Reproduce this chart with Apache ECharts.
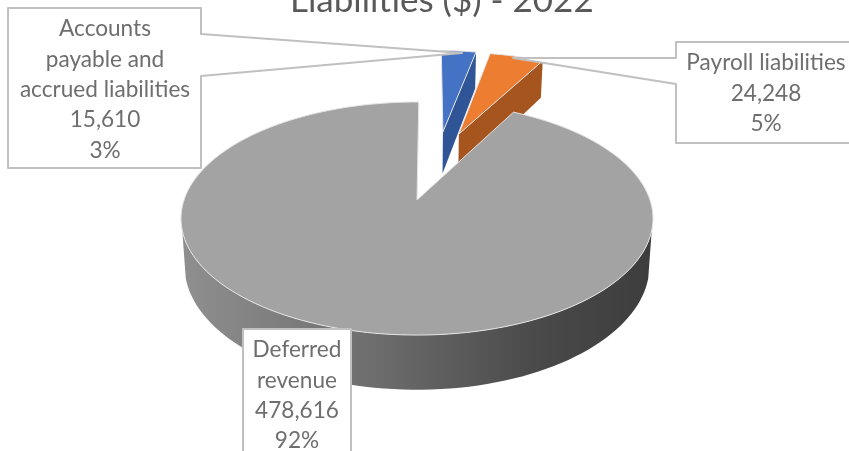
<!DOCTYPE html>
<html><head><meta charset="utf-8">
<style>html,body{margin:0;padding:0;background:#fff}#c{width:849px;height:451px;filter:blur(0.5px)}</style>
<script src="https://cdn.jsdelivr.net/npm/echarts@6/dist/echarts.min.js"></script>
</head><body><div id="c"></div>
<script>
const title = "Liabilities ($) - 2022";
const categories = ["Accounts\npayable and\naccrued liabilities", "Payroll liabilities", "Deferred\nrevenue"];
const values = [15610, 24248, 478616];
const topColors = ["#4472c4", "#ed7d31", "#a3a3a3"];
const sideColors = ["#2f5597", "#a6551f", "#666666"];

// 3D view of the pie: perspective projection of the unit disc
const CX = 417, CY = 200, B = 233, A = 113.6, K = 0.159, DEPTH = 46, ROT = 0.5;
const explode = [[0.123, -0.662], [0.198, -0.64], [0, 0]];
const total = values.reduce((a, b) => a + b, 0);
const startAngles = []; let acc = ROT;
values.forEach(v => { startAngles.push(acc); acc += v / total * 360; });

function proj(u, v, low) {
  const s = 1 / (1 - K * v);
  const xs = low ? 0.985 : 1;
  return [CX + B * u * s * xs, CY + A * v * s + (low ? DEPTH * s : 0)];
}
function rim(off, deg, low) {
  const t = deg * Math.PI / 180;
  return proj(off[0] + Math.sin(t), off[1] - Math.cos(t), low);
}
function arc(off, a, b, low) {
  const pts = [], n = Math.max(4, Math.ceil(Math.abs(b - a) / 2));
  for (let i = 0; i <= n; i++) pts.push(rim(off, a + (b - a) * i / n, low));
  return pts;
}
function poly(points, fill, stroke, w) {
  return { type: 'polygon', shape: { points }, style: { fill, stroke: stroke || null, lineWidth: w || 0, lineJoin: 'round' } };
}
function renderSlice(params, api) {
  const i = params.dataIndex, val = api.value(0);
  const a = startAngles[i], b = a + val / total * 360, off = explode[i];
  const apex = proj(off[0], off[1], false), apexLow = proj(off[0], off[1], true);
  const top = [apex].concat(arc(off, a, b, false));
  const kids = [];
  if (i < 2) {
    kids.push(poly([apex, rim(off, b, false), rim(off, b, true), apexLow], sideColors[i]));
  } else {
    const up = arc(off, 105, 255, false), low = arc(off, 105, 255, true).reverse();
    kids.push(poly(up.concat(low), new echarts.graphic.LinearGradient(0, 0, 1, 0, [
      { offset: 0, color: '#8f8f8f' }, { offset: 0.4, color: '#6e6e6e' },
      { offset: 0.75, color: '#4a4a4a' }, { offset: 1, color: '#3d3d3d' }
    ])));
  }
  kids.push(poly(top, topColors[i], '#e4e4e4', 1));
  return { type: 'group', children: kids };
}
// callout outlines, in page pixels
const callouts = [
  { pts: [[8, 8], [201, 8], [201, 34], [462, 53], [201, 76], [201, 168], [8, 168]], tx: 105, ty: 14 },
  { pts: [[870, 42], [676, 42], [676, 58], [513, 58], [676, 84], [676, 143], [870, 143]], tx: 766, ty: 48 },
  { pts: [[243, 329], [351, 329], [351, 475], [243, 475]], tx: 297, ty: 335 }
];
function renderLabel(params, api) {
  const i = params.dataIndex, c = callouts[i], val = api.value(0);
  const text = categories[i] + "\n" + val.toLocaleString('en-US') + "\n" + Math.round(val / total * 100) + "%";
  return { type: 'group', children: [
    poly(c.pts, '#ffffff', '#c0c0c0', 2),
    { type: 'text', style: { text, x: c.tx, y: c.ty, align: 'center', verticalAlign: 'top',
      font: '22.6px Lato', lineHeight: 30.3, fill: '#6e6e6e' } }
  ] };
}
const chart = echarts.init(document.getElementById('c'), null, { renderer: 'canvas' });
const seriesData = values.map((v, i) => ({ name: categories[i], value: [v] }));
chart.setOption({
  animation: false,
  backgroundColor: '#fff',
  title: { text: title, left: 290, top: -17, textStyle: { fontFamily: 'Lato', fontWeight: 'normal', fontSize: 35, color: '#595959' }, padding: 0 },
  series: [
    { type: 'custom', coordinateSystem: 'none', renderItem: renderSlice, data: seriesData, z: 2, silent: true },
    { type: 'custom', coordinateSystem: 'none', renderItem: renderLabel, data: seriesData, z: 3, silent: true }
  ]
});
</script></body></html>
